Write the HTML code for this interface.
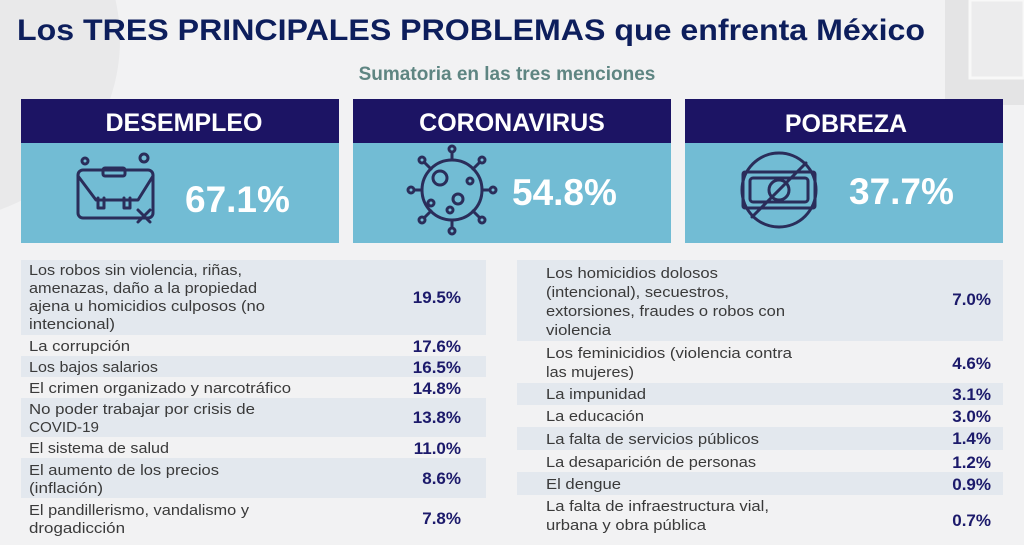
<!DOCTYPE html>
<html><head><meta charset="utf-8"><style>
html,body{margin:0;padding:0;background:#f2f2f3;}
svg{display:block}
.t{font-family:"Liberation Sans",sans-serif;font-size:14.5px;fill:#3a3a3a;}
.v{font-family:"Liberation Sans",sans-serif;font-size:17px;font-weight:bold;fill:#1c1a6b;text-anchor:end;}
.h{font-family:"Liberation Sans",sans-serif;font-size:25px;font-weight:bold;fill:#fff;text-anchor:middle;}
.p{font-family:"Liberation Sans",sans-serif;font-size:37px;font-weight:900;fill:#fff;}
.ic{fill:none;stroke:#2a2d5a;stroke-width:3;stroke-linecap:round;stroke-linejoin:round}
</style></head><body>
<svg width="1024" height="545" viewBox="0 0 1024 545">
<rect width="1024" height="545" fill="#f2f2f3"/>
<circle cx="-60" cy="40" r="180" fill="#e9e9ea"/>
<rect x="945" y="0" width="79" height="105" fill="#e4e4e5"/>
<rect x="970" y="0" width="54" height="78" fill="#ececed" stroke="#f8f8f8" stroke-width="3"/>
<text x="17" y="40" textLength="908" lengthAdjust="spacingAndGlyphs" style="font-family:'Liberation Sans',sans-serif;font-size:30px;font-weight:bold;fill:#0d1e5c">Los TRES PRINCIPALES PROBLEMAS que enfrenta México</text>
<text x="507" y="80" text-anchor="middle" style="font-family:'Liberation Sans',sans-serif;font-size:19px;font-weight:bold;fill:#5e8582">Sumatoria en las tres menciones</text>

<rect x="21" y="99" width="318" height="144" fill="#72bcd4"/><rect x="21" y="99" width="318" height="44" fill="#1c1464"/>
<rect x="353" y="99" width="318" height="144" fill="#72bcd4"/><rect x="353" y="99" width="318" height="44" fill="#1c1464"/>
<rect x="685" y="99" width="318" height="144" fill="#72bcd4"/><rect x="685" y="99" width="318" height="44" fill="#1c1464"/>
<text class="h" x="184" y="131">DESEMPLEO</text>
<text class="h" x="512" y="131">CORONAVIRUS</text>
<text class="h" x="846" y="132">POBREZA</text>
<text class="p" x="185" y="212">67.1%</text>
<text class="p" x="512" y="205">54.8%</text>
<text class="p" x="849" y="204">37.7%</text>

<g class="ic">
<rect x="78" y="170" width="75" height="48" rx="5"/>
<path d="M78 176 L96 200 H138 L153 176"/>
<rect x="103" y="168" width="22" height="8" rx="2"/>
<path d="M98 198 v10 h6 v-10 M124 198 v10 h6 v-10"/>
<circle cx="85" cy="161" r="3"/><circle cx="144" cy="158" r="4"/>
<path d="M138 210 l12 12 M150 210 l-12 12"/>
</g>
<g class="ic">
<circle cx="452" cy="190" r="30"/>
<circle cx="440" cy="178" r="7"/><circle cx="458" cy="199" r="5"/><circle cx="470" cy="181" r="3"/><circle cx="431" cy="203" r="3"/><circle cx="450" cy="210" r="3"/>
<path d="M452 160v-8 M452 220v8 M422 190h-8 M482 190h8 M431 169l-6-6 M473 169l6-6 M431 211l-6 6 M473 211l6 6"/>
<circle cx="452" cy="149" r="3"/><circle cx="452" cy="231" r="3"/><circle cx="411" cy="190" r="3"/><circle cx="493" cy="190" r="3"/><circle cx="422" cy="160" r="3"/><circle cx="482" cy="160" r="3"/><circle cx="422" cy="220" r="3"/><circle cx="482" cy="220" r="3"/>
</g>
<g class="ic">
<circle cx="779" cy="190" r="37"/>
<rect x="743" y="172" width="72" height="36" rx="2"/>
<rect x="750" y="178" width="58" height="24" rx="3"/>
<circle cx="779" cy="190" r="10"/>
<path d="M752 217 L806 163"/>
</g>

<g fill="#e3e8ee">
<rect x="21" y="260" width="465" height="75"/>
<rect x="21" y="356" width="465" height="21"/>
<rect x="21" y="398" width="465" height="39"/>
<rect x="21" y="458" width="465" height="40"/>
</g>
<g class="t" lengthAdjust="spacingAndGlyphs">
<text x="29" y="275" textLength="213" lengthAdjust="spacingAndGlyphs">Los robos sin violencia, riñas,</text>
<text x="29" y="293" textLength="228" lengthAdjust="spacingAndGlyphs">amenazas, daño a la propiedad</text>
<text x="29" y="311" textLength="236" lengthAdjust="spacingAndGlyphs">ajena u homicidios culposos (no</text>
<text x="29" y="329" textLength="86" lengthAdjust="spacingAndGlyphs">intencional)</text>
<text x="29" y="351" textLength="101" lengthAdjust="spacingAndGlyphs">La corrupción</text>
<text x="29" y="372" textLength="129" lengthAdjust="spacingAndGlyphs">Los bajos salarios</text>
<text x="29" y="393" textLength="262" lengthAdjust="spacingAndGlyphs">El crimen organizado y narcotráfico</text>
<text x="29" y="414" textLength="226" lengthAdjust="spacingAndGlyphs">No poder trabajar por crisis de</text>
<text x="29" y="432" textLength="70" lengthAdjust="spacingAndGlyphs">COVID-19</text>
<text x="29" y="453" textLength="140" lengthAdjust="spacingAndGlyphs">El sistema de salud</text>
<text x="29" y="475" textLength="190" lengthAdjust="spacingAndGlyphs">El aumento de los precios</text>
<text x="29" y="493" textLength="74" lengthAdjust="spacingAndGlyphs">(inflación)</text>
<text x="29" y="515" textLength="220" lengthAdjust="spacingAndGlyphs">El pandillerismo, vandalismo y</text>
<text x="29" y="533" textLength="96" lengthAdjust="spacingAndGlyphs">drogadicción</text>
</g>
<g class="v">
<text x="461" y="303">19.5%</text>
<text x="461" y="352">17.6%</text>
<text x="461" y="373">16.5%</text>
<text x="461" y="394">14.8%</text>
<text x="461" y="423">13.8%</text>
<text x="461" y="454">11.0%</text>
<text x="461" y="484">8.6%</text>
<text x="461" y="524">7.8%</text>
</g>

<g fill="#e3e8ee">
<rect x="517" y="260" width="486" height="81"/>
<rect x="517" y="383" width="486" height="22"/>
<rect x="517" y="427" width="486" height="23"/>
<rect x="517" y="472" width="486" height="23"/>
</g>
<g class="t">
<text x="546" y="278" textLength="172" lengthAdjust="spacingAndGlyphs">Los homicidios dolosos</text>
<text x="546" y="297" textLength="183" lengthAdjust="spacingAndGlyphs">(intencional), secuestros,</text>
<text x="546" y="316" textLength="239" lengthAdjust="spacingAndGlyphs">extorsiones, fraudes o robos con</text>
<text x="546" y="335" textLength="65" lengthAdjust="spacingAndGlyphs">violencia</text>
<text x="546" y="358" textLength="246" lengthAdjust="spacingAndGlyphs">Los feminicidios (violencia contra</text>
<text x="546" y="377" textLength="88" lengthAdjust="spacingAndGlyphs">las mujeres)</text>
<text x="546" y="399" textLength="100" lengthAdjust="spacingAndGlyphs">La impunidad</text>
<text x="546" y="421" textLength="98" lengthAdjust="spacingAndGlyphs">La educación</text>
<text x="546" y="444" textLength="213" lengthAdjust="spacingAndGlyphs">La falta de servicios públicos</text>
<text x="546" y="467" textLength="210" lengthAdjust="spacingAndGlyphs">La desaparición de personas</text>
<text x="546" y="489" textLength="75" lengthAdjust="spacingAndGlyphs">El dengue</text>
<text x="546" y="511" textLength="223" lengthAdjust="spacingAndGlyphs">La falta de infraestructura vial,</text>
<text x="546" y="530" textLength="160" lengthAdjust="spacingAndGlyphs">urbana y obra pública</text>
</g>
<g class="v">
<text x="991" y="305">7.0%</text>
<text x="991" y="369">4.6%</text>
<text x="991" y="400">3.1%</text>
<text x="991" y="422">3.0%</text>
<text x="991" y="444">1.4%</text>
<text x="991" y="468">1.2%</text>
<text x="991" y="490">0.9%</text>
<text x="991" y="526">0.7%</text>
</g>
</svg>
</body></html>
